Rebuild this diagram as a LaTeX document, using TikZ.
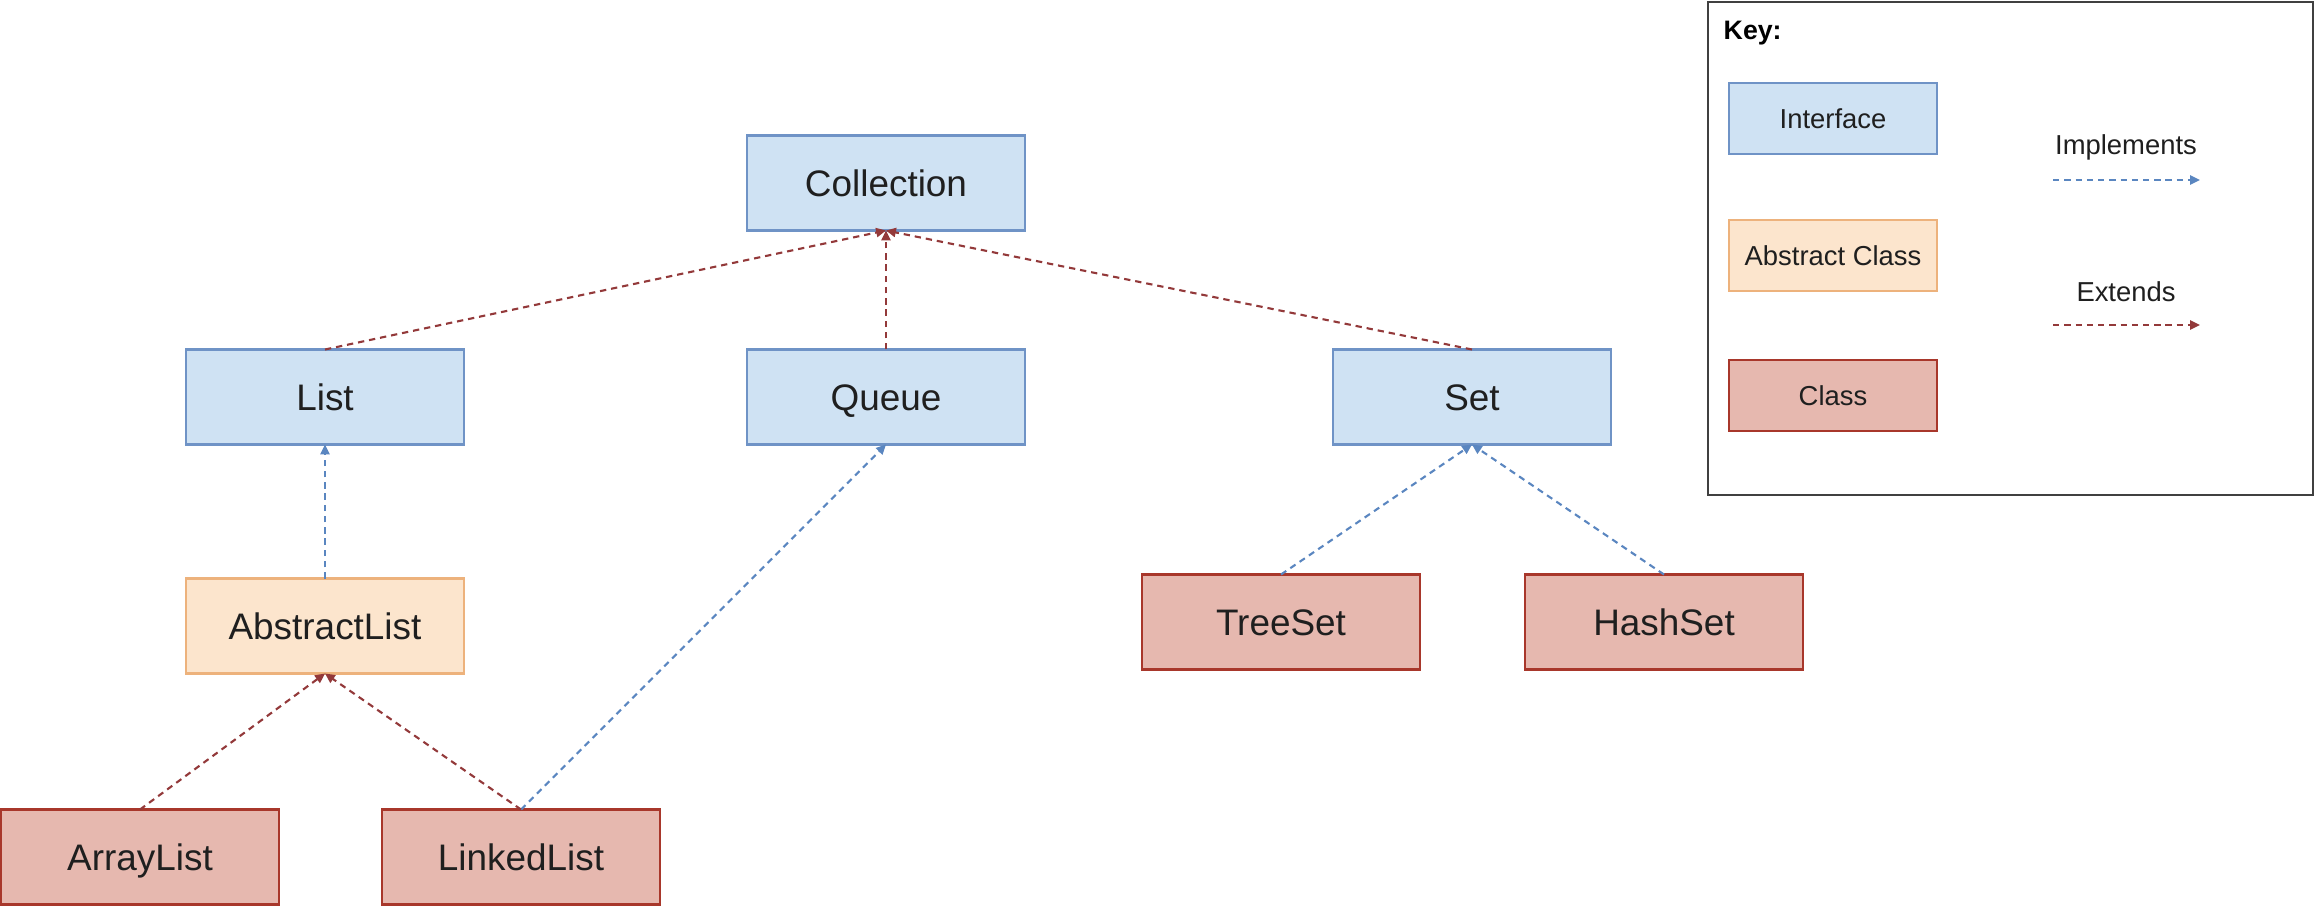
\documentclass[tikz,border=0pt]{standalone}
\usepackage{fontspec}
\setmainfont{Liberation Sans}
\usetikzlibrary{arrows.meta}
\definecolor{coll@blue}{HTML}{CFE2F3}
\definecolor{coll@blueline}{HTML}{6F93C6}
\definecolor{coll@orange}{HTML}{FCE5CD}
\definecolor{coll@orangeline}{HTML}{EDB27C}
\definecolor{coll@red}{HTML}{E6B8AF}
\definecolor{coll@redline}{HTML}{A8372B}
\definecolor{coll@impl}{HTML}{5A86C0}
\definecolor{coll@ext}{HTML}{93393A}

\begin{document}
\begin{tikzpicture}[
  box/.style={
    draw, line width=0.6pt, inner sep=0pt, outer sep=0pt,
    minimum width=2.78cm, minimum height=0.95cm,
    text height=7.5pt, text depth=0pt,
    text=black!88, font=\fontsize{10.5}{12}\selectfont,
  },
  iface/.style={box, fill=coll@blue, draw=coll@blueline},
  abstr/.style={box, fill=coll@orange, draw=coll@orangeline},
  klass/.style={box, fill=coll@red, draw=coll@redline},
  keybox/.style={
    minimum width=2.08cm, minimum height=0.71cm,
    text height=5.6pt, font=\fontsize{7.8}{9}\selectfont,
  },
  implements/.style={
    coll@impl, line width=0.6pt, dash pattern=on 1.8pt off 1.4pt,
    -{Triangle[length=2.8pt,width=2.6pt]},
  },
  extends/.style={
    coll@ext, line width=0.6pt, dash pattern=on 1.8pt off 1.4pt,
    -{Triangle[length=2.8pt,width=2.6pt]},
  },
]

\useasboundingbox (0,0) rectangle (23.15,9.06);

% interfaces
\node[iface] (collection) at (8.86,7.23) {Collection};
\node[iface] (list)       at (3.25,5.09) {List};
\node[iface] (queue)      at (8.86,5.09) {Queue};
\node[iface] (set)        at (14.72,5.09) {Set};

% abstract class
\node[abstr] (abstractlist) at (3.25,2.80) {AbstractList};

% classes
\node[klass] (arraylist)  at (1.40,0.49) {ArrayList};
\node[klass] (linkedlist) at (5.21,0.49) {LinkedList};
\node[klass] (treeset)    at (12.81,2.84) {TreeSet};
\node[klass] (hashset)    at (16.64,2.84) {HashSet};

\draw[extends] (list.north) -- (collection.south);
\draw[extends] (queue.north) -- (collection.south);
\draw[extends] (set.north) -- (collection.south);

\draw[implements] (abstractlist.north) -- (list.south);
\draw[implements] (linkedlist.north) -- (queue.south);
\draw[implements] (treeset.north) -- (set.south);
\draw[implements] (hashset.north) -- (set.south);

\draw[extends] (arraylist.north) -- (abstractlist.south);
\draw[extends] (linkedlist.north) -- (abstractlist.south);

% key
\draw[line width=0.6pt, black!75] (17.08,4.11) rectangle (23.13,9.04);
\node[anchor=west, inner sep=0pt, font=\fontsize{7.6}{9}\selectfont\bfseries] (key) at (17.23,8.73) {Key:};

\node[iface, keybox] (keyiface) at (18.33,7.875) {Interface};
\node[abstr, keybox] (keyabstr) at (18.33,6.505) {Abstract Class};
\node[klass, keybox] (keyclass) at (18.33,5.105) {Class};

\node[font=\fontsize{7.8}{9}\selectfont, text=black!88] (implabel) at (21.26,7.59) {Implements};
\coordinate (implA) at (20.53,7.26);
\coordinate (implB) at (22.00,7.26);
\draw[implements] (implA) -- (implB);

\node[font=\fontsize{7.8}{9}\selectfont, text=black!88] (extlabel) at (21.26,6.14) {Extends};
\coordinate (extA) at (20.53,5.81);
\coordinate (extB) at (22.00,5.81);
\draw[extends] (extA) -- (extB);

\end{tikzpicture}
\end{document}
